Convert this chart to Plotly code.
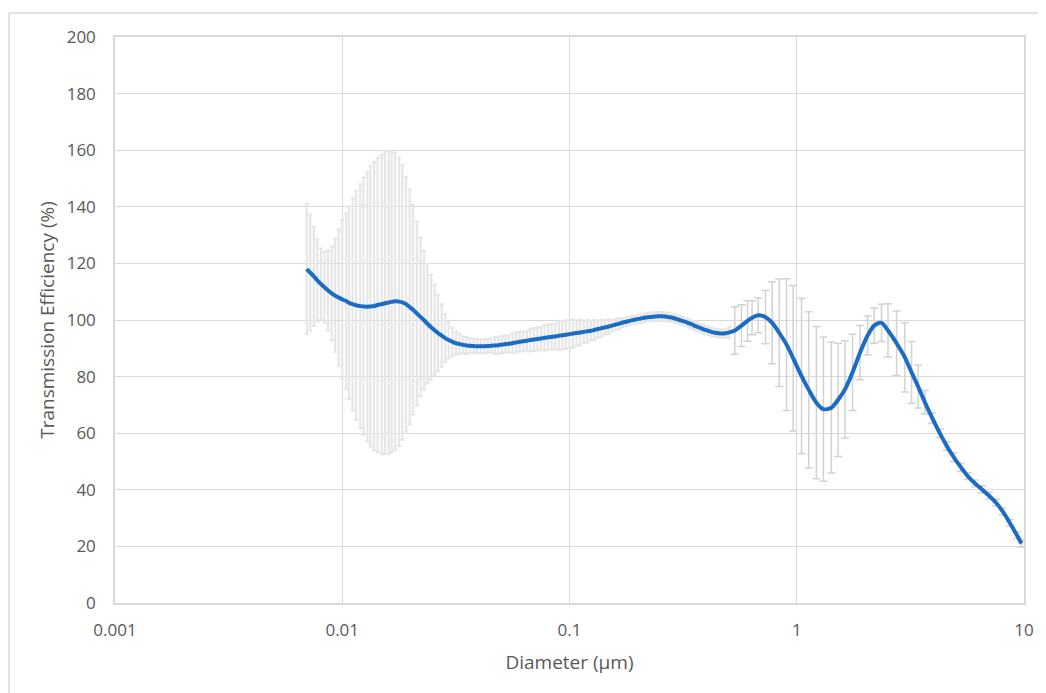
import plotly.graph_objects as go

# ---- data ----
# SMPS range diameters (µm)
smps_d = [0.00698, 0.00723, 0.00750, 0.00777, 0.00806, 0.00835, 0.00866, 0.00898, 0.00931, 0.00965,
          0.0100, 0.0104, 0.0107, 0.0111, 0.0115, 0.0120, 0.0124, 0.0129, 0.0133, 0.0138,
          0.0143, 0.0149, 0.0154, 0.0160, 0.0165, 0.0171, 0.0178, 0.0184, 0.0191, 0.0198,
          0.0205, 0.0213, 0.0221, 0.0229, 0.0237, 0.0246, 0.0255, 0.0264, 0.0274, 0.0284,
          0.0294, 0.0305, 0.0316, 0.0328, 0.0340, 0.0352, 0.0365, 0.0379, 0.0392, 0.0407,
          0.0422, 0.0437, 0.0453, 0.0470, 0.0487, 0.0505, 0.0523, 0.0542, 0.0562, 0.0583,
          0.0604, 0.0626, 0.0649, 0.0673, 0.0698, 0.0723, 0.0750, 0.0777, 0.0806, 0.0835,
          0.0866, 0.0898, 0.0931, 0.0965, 0.1000, 0.1037, 0.1075, 0.1114, 0.1155, 0.1197,
          0.1241, 0.1286, 0.1332, 0.1382, 0.1433, 0.1486, 0.1540, 0.1596, 0.1655, 0.1715,
          0.1778, 0.1843, 0.1911, 0.1981, 0.2054, 0.2129, 0.2207, 0.2288, 0.2371, 0.2458,
          0.2548, 0.2642, 0.2738, 0.2839, 0.2943, 0.3051, 0.3162, 0.3278, 0.3398, 0.3523,
          0.3652, 0.3786, 0.3925, 0.4069, 0.4217, 0.4371, 0.4532, 0.4698, 0.4870, 0.5048]
smps_te = [118.0, 116.7, 115.4, 114.0, 112.7, 111.6, 110.4, 109.4, 108.6, 107.9,
           107.3, 106.7, 106.1, 105.6, 105.2, 104.9, 104.8, 104.7, 104.8, 104.9,
           105.3, 105.6, 105.9, 106.2, 106.4, 106.6, 106.5, 106.2, 105.6, 104.6,
           103.6, 102.3, 101.1, 99.9, 98.7, 97.4, 96.4, 95.4, 94.5, 93.6,
           92.9, 92.3, 91.8, 91.5, 91.2, 91.0, 90.9, 90.8, 90.7, 90.7,
           90.7, 90.8, 90.9, 91.0, 91.1, 91.3, 91.5, 91.6, 91.8, 92.1,
           92.3, 92.5, 92.7, 92.9, 93.1, 93.3, 93.5, 93.7, 93.9, 94.0,
           94.2, 94.4, 94.6, 94.8, 95.0, 95.2, 95.4, 95.6, 95.8, 96.0,
           96.2, 96.5, 96.8, 97.1, 97.4, 97.7, 98.0, 98.4, 98.7, 99.1,
           99.4, 99.7, 100.0, 100.3, 100.5, 100.8, 101.0, 101.1, 101.2, 101.3,
           101.3, 101.2, 101.0, 100.8, 100.4, 100.0, 99.6, 99.2, 98.7, 98.1,
           97.6, 97.1, 96.6, 96.2, 95.8, 95.5, 95.3, 95.2, 95.3, 95.6]
smps_err = [23.0, 20.5, 17.5, 14.5, 12.5, 12.5, 14.0, 16.5, 20.0, 24.0,
            28.0, 31.0, 34.0, 37.5, 40.5, 43.0, 45.5, 47.5, 49.5, 51.0,
            52.0, 52.8, 53.3, 53.5, 53.2, 52.5, 51.0, 48.5, 45.0, 41.5,
            37.0, 32.5, 28.0, 24.5, 21.0, 18.5, 16.0, 13.5, 11.0, 8.5,
            6.5, 5.0, 4.0, 3.5, 3.0, 3.0, 2.5, 2.5, 2.5, 2.5,
            2.5, 2.5, 2.5, 3.0, 3.0, 3.0, 3.0, 3.0, 3.5, 3.5,
            3.5, 3.5, 3.5, 4.0, 4.0, 4.0, 4.0, 4.5, 4.5, 4.5,
            4.5, 5.0, 5.0, 5.0, 5.0, 5.0, 4.5, 4.5, 4.0, 4.0,
            3.5, 3.5, 3.0, 3.0, 2.5, 2.5, 2.0, 2.0, 2.0, 1.5,
            1.5, 1.5, 1.5, 1.5, 1.5, 1.5, 1.5, 1.5, 1.5, 1.5,
            1.5, 1.5, 1.5, 1.5, 1.5, 1.5, 1.5, 1.5, 1.5, 1.5,
            1.5, 1.5, 1.5, 1.5, 1.5, 1.5, 1.5, 1.5, 1.5, 2.0]

# APS range diameters (µm)
aps_d = [0.534, 0.571, 0.607, 0.636, 0.676, 0.729, 0.780, 0.837, 0.902, 0.964,
         1.05, 1.13, 1.22, 1.31, 1.42, 1.52, 1.63, 1.76, 1.90, 2.05,
         2.19, 2.36, 2.52, 2.75, 2.99, 3.20, 3.42, 3.66, 3.95, 4.26,
         4.57, 4.91, 5.27, 5.66, 6.08, 6.52, 7.00, 7.52, 8.07, 8.67,
         9.30, 9.75]
aps_te = [96.3, 98.0, 99.7, 100.8, 101.7, 101.0, 99.0, 95.5, 91.3, 86.5,
          80.2, 75.3, 70.8, 68.5, 69.0, 71.8, 75.5, 81.5, 88.5, 94.5,
          98.0, 99.0, 96.3, 91.8, 86.8, 81.5, 76.5, 71.0, 65.3, 60.0,
          55.5, 51.5, 48.0, 44.8, 42.3, 40.2, 38.0, 35.5, 32.3, 28.3,
          24.0, 21.0]
aps_err = [8.4, 7.4, 7.2, 6.0, 6.2, 9.4, 14.5, 19.0, 23.3, 25.7,
           27.4, 27.6, 26.9, 25.5, 23.1, 20.0, 17.2, 13.5, 9.6, 6.9,
           6.2, 6.6, 9.4, 11.4, 12.2, 10.9, 7.6, 4.1, 1.8, 1.5,
           1.5, 1.5, 1.5, 1.2, 1.2, 1.2, 1.2, 1.2, 1.2, 1.2,
           1.2, 1.2]

x_tickvals = [0.001, 0.01, 0.1, 1, 10]
x_ticktext = ["0.001", "0.01", "0.1", "1", "10"]
y_tickvals = [0, 20, 40, 60, 80, 100, 120, 140, 160, 180, 200]

diam = smps_d + aps_d
te = smps_te + aps_te

GRID = "#d9d9d9"
TXT = "#595959"
FONT = "Open Sans"

fig = go.Figure()

# SMPS error bars (dense, light)
fig.add_trace(go.Scatter(
    x=smps_d, y=smps_te, mode="markers",
    marker=dict(size=1, color="#e6e6e6"),
    error_y=dict(type="data", array=smps_err, visible=True,
                 color="#e6e6e6", thickness=2.2, width=2),
    hoverinfo="skip", showlegend=False,
))
# APS error bars
fig.add_trace(go.Scatter(
    x=aps_d, y=aps_te, mode="markers",
    marker=dict(size=1, color="#d4d4d4"),
    error_y=dict(type="data", array=aps_err, visible=True,
                 color="#d2d2d2", thickness=1.5, width=4),
    hoverinfo="skip", showlegend=False,
))

# smoothed line
fig.add_trace(go.Scatter(
    x=diam, y=te, mode="lines",
    line=dict(color="#1a6cc4", width=4, shape="spline", smoothing=0.8),
    showlegend=False,
))

fig.update_xaxes(
    type="log", range=[-3, 1],
    tickvals=x_tickvals, ticktext=x_ticktext,
    showgrid=True, gridcolor=GRID, gridwidth=1.3,
    showline=True, linecolor=GRID, linewidth=1.5, mirror=True,
    ticks="", ticklabelstandoff=11,
    tickfont=dict(family=FONT, size=17, color=TXT),
    title=dict(text="Diameter (µm)", font=dict(family=FONT, size=19, color=TXT), standoff=16),
    zeroline=False,
)
fig.update_yaxes(
    range=[0, 200], tickvals=y_tickvals,
    showgrid=True, gridcolor=GRID, gridwidth=1.3,
    showline=True, linecolor=GRID, linewidth=1.5, mirror=True,
    ticks="", ticklabelstandoff=14,
    tickfont=dict(family=FONT, size=17, color=TXT),
    title=dict(text="Transmission Efficiency (%)", font=dict(family=FONT, size=19, color=TXT), standoff=7),
    zeroline=False,
)

# outer chart border (left and top edges visible in the reference)
fig.add_shape(type="line", xref="paper", yref="paper",
              x0=-0.1166, x1=1.05, y0=1.0424, y1=1.0424,
              line=dict(color=GRID, width=1.5))
fig.add_shape(type="line", xref="paper", yref="paper",
              x0=-0.1166, x1=-0.1166, y0=-0.2, y1=1.0424,
              line=dict(color=GRID, width=1.5))

# page body has an 8px margin, so the figure is sized to fit the window
fig.update_layout(
    width=1038, height=685,
    margin=dict(l=107, r=14, t=29, b=90),
    paper_bgcolor="white", plot_bgcolor="white",
    font=dict(family=FONT, color=TXT),
)

fig.write_html("out.html")
